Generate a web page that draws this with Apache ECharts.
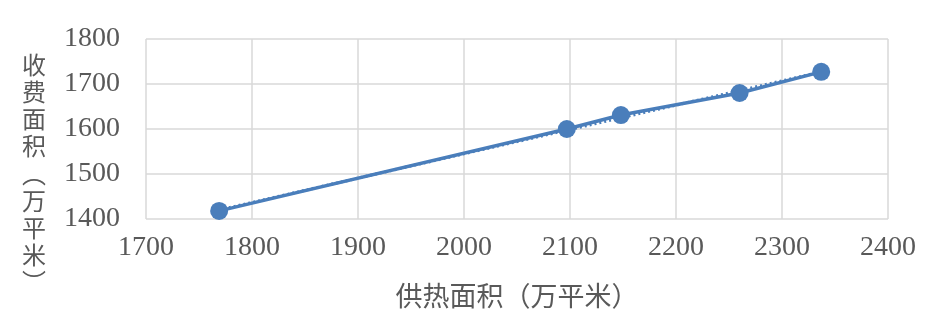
<!DOCTYPE html>
<html><head><meta charset="utf-8">
<script src="https://cdn.jsdelivr.net/npm/echarts@6/dist/echarts.min.js"></script>
<style>html,body{margin:0;padding:0;background:#fff}#c{width:940px;height:328px}</style>
</head><body><div id="c"></div>
<script>
const xValues = [1769, 2097, 2148, 2260, 2337];
const yValues = [1418, 1600, 1631, 1680, 1727];
const trendX = [1769, 2337];
const trendY = [1420, 1727];
const xTicks = [1700, 1800, 1900, 2000, 2100, 2200, 2300, 2400];
const yTicks = [1400, 1500, 1600, 1700, 1800];
const xName = '供热面积（万平米）';
const yName = '收费面积（万平米）';

const blue = '#4a7ebb';
const grey = '#595959';
const verticalName = yName.replace('（', '︵').replace('）', '︶').split('').join('\n');
const chart = echarts.init(document.getElementById('c'));
chart.setOption({
  animation: false,
  grid: {left: 146, right: 52, top: 39, bottom: 109, containLabel: false, outerBoundsMode: 'none'},
  xAxis: {
    type: 'value', min: xTicks[0], max: xTicks[xTicks.length-1], interval: 100,
    axisLine: {show: false}, axisTick: {show: false},
    splitLine: {show: true, lineStyle: {color: '#d9d9d9', width: 1.5}},
    axisLabel: {color: grey, fontFamily: 'Liberation Serif', fontSize: 28, margin: 15, formatter: v => String(v)},
    name: xName, nameLocation: 'middle', nameGap: 63,
    nameTextStyle: {color: grey, fontFamily: 'Noto Sans CJK SC', fontSize: 27}
  },
  yAxis: {
    type: 'value', min: yTicks[0], max: yTicks[yTicks.length-1], interval: 100,
    axisLine: {show: false}, axisTick: {show: false},
    splitLine: {show: true, lineStyle: {color: '#d9d9d9', width: 1.5}},
    axisLabel: {color: grey, fontFamily: 'Liberation Serif', fontSize: 28, margin: 26, formatter: v => String(v)},
    name: ''
  },
  graphic: [{
    type: 'text', left: 22, top: 51,
    style: {text: verticalName, fill: grey, font: '24px "Noto Sans CJK SC"', lineHeight: 27.2, align: 'center'}
  }],
  series: [
    {
      type: 'line', data: trendX.map((x, i) => [x, trendY[i]]),
      symbol: 'none', lineStyle: {color: blue, width: 3, type: [2, 3]}, z: 1
    },
    {
      type: 'line', data: xValues.map((x, i) => [x, yValues[i]]),
      symbol: 'circle', symbolSize: 18,
      itemStyle: {color: blue}, lineStyle: {color: blue, width: 3.5}, z: 2
    }
  ]
});
</script></body></html>
